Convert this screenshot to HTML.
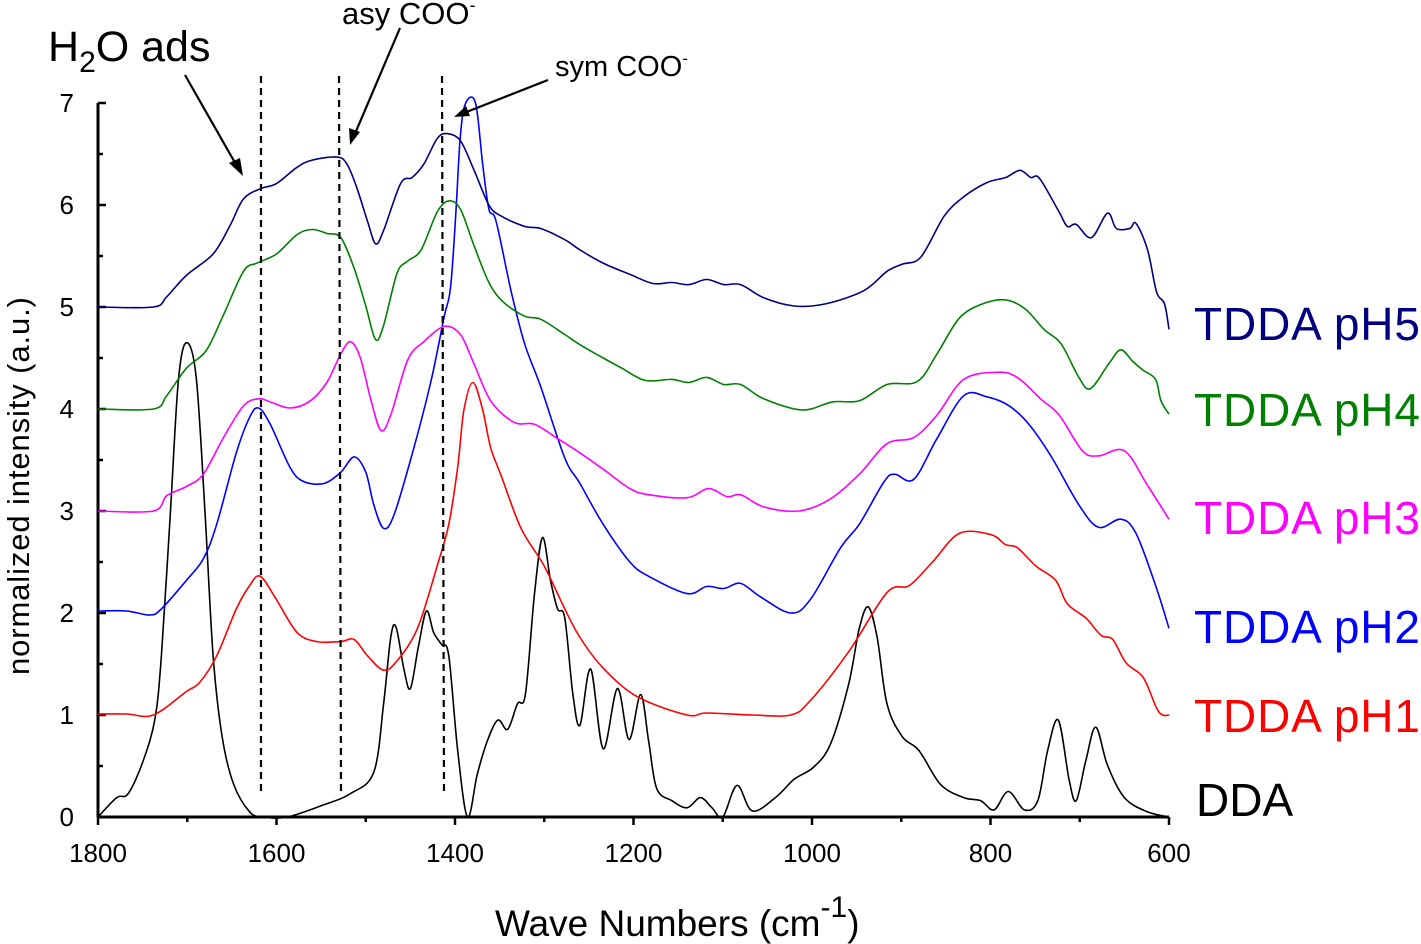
<!DOCTYPE html>
<html><head><meta charset="utf-8"><style>
html,body{margin:0;padding:0;background:#fff}
svg{display:block;font-family:"Liberation Sans",Arial,sans-serif}
</style></head><body>
<svg id="chart" width="1421" height="944" viewBox="0 0 1421 944" xmlns="http://www.w3.org/2000/svg">
<g id="axes"></g>
<g id="series"></g>
<g id="annot">
<text x="48" y="61" font-size="43">H<tspan font-size="30" dy="11">2</tspan><tspan dy="-11">O ads</tspan></text>
<text x="342" y="24" font-size="31">asy COO<tspan font-size="18" dy="-13">-</tspan></text>
<text x="555" y="76" font-size="29">sym COO<tspan font-size="17" dy="-12">-</tspan></text>
<g stroke="#000" stroke-width="2.2" fill="none">
<line x1="185" y1="75" x2="238" y2="168"/>
<line x1="400" y1="28" x2="354" y2="136"/>
<line x1="548" y1="80" x2="464" y2="113"/>
</g>
<polygon points="243,176 229,163 240,158"/>
<polygon points="350,145 349,128 360,132"/>
<polygon points="454,117 466,106 470,116"/>
<g stroke="#000" stroke-width="2.2" stroke-dasharray="7,5">
<line x1="261" y1="76" x2="261" y2="795"/>
<line x1="339" y1="76" x2="341" y2="795"/>
<line x1="442" y1="76" x2="444" y2="795"/>
</g>
<g font-size="46">
<text x="1194" y="340" fill="#000080" textLength="226">TDDA pH5</text>
<text x="1194" y="426" fill="#008000" textLength="226">TDDA pH4</text>
<text x="1194" y="534" fill="#ff00ff" textLength="226">TDDA pH3</text>
<text x="1194" y="643" fill="#0000ff" textLength="226">TDDA pH2</text>
<text x="1194" y="732" fill="#ff0000" textLength="226">TDDA pH1</text>
<text x="1196" y="816" fill="#000">DDA</text>
</g>
</g>
</svg>
<script>
const xTicks=[1800,1600,1400,1200,1000,800,600];
const yTicks=[0,1,2,3,4,5,6,7];
const seriesNames=["DDA","TDDA pH1","TDDA pH2","TDDA pH3","TDDA pH4","TDDA pH5"];
const seriesColors=["#000000","#ff0000","#0000ff","#ff00ff","#008000","#000080"];
const ddaWn=[1800,1779,1766,1749,1736,1729,1719,1710,1701,1690,1680,1671,1661,1648,1630,1615,1588,1547,1517,1491,1480,1472,1466,1457,1450,1441,1432,1424,1415,1407,1397,1386,1375,1364,1352,1341,1330,1321,1311,1302,1293,1285,1277,1268,1260,1248,1234,1218,1205,1192,1183,1174,1157,1140,1125,1112,1100,1084,1067,1041,1020,998,979,959,947,937,927,916,899,880,856,830,811,796,780,762,747,736,724,712,704,693,682,669,650,624,600];
const ddaVal=[0,0.19,0.23,0.56,0.97,1.58,2.97,4.27,4.65,4.31,2.97,1.58,0.79,0.32,0.05,0,0,0.12,0.23,0.44,1.11,1.76,1.86,1.44,1.26,1.67,2.02,1.81,1.69,1.58,0.65,0,0.42,0.74,0.95,0.86,1.11,1.21,2.18,2.74,2.32,2.04,1.95,1.21,0.9,1.45,0.67,1.26,0.76,1.2,0.74,0.28,0.16,0.09,0.19,0.09,0,0.31,0.06,0.19,0.37,0.49,0.72,1.3,1.85,2.06,1.76,1.11,0.79,0.65,0.32,0.19,0.16,0.07,0.25,0.07,0.16,0.65,0.95,0.37,0.16,0.56,0.88,0.51,0.19,0.05,0];
const ph1Wn=[1800,1768,1738,1701,1686,1667,1645,1630,1618,1600,1577,1555,1528,1513,1498,1480,1465,1442,1420,1407,1397,1390,1380,1369,1360,1348,1326,1300,1277,1260,1234,1196,1140,1118,1067,1024,1002,959,916,891,865,835,800,783,770,749,727,714,693,676,663,648,629,614,607,600];
const ph1Val=[1.01,1.01,1.0,1.23,1.32,1.58,2.04,2.27,2.36,2.13,1.81,1.72,1.72,1.74,1.58,1.44,1.53,1.85,2.46,2.87,3.43,3.99,4.26,3.99,3.62,3.34,2.83,2.46,2.04,1.76,1.46,1.18,1.0,1.02,1.0,1.0,1.14,1.62,2.2,2.27,2.5,2.78,2.77,2.67,2.64,2.46,2.32,2.09,1.95,1.78,1.74,1.51,1.37,1.07,1.0,1.0];
const ph2Wn=[1800,1768,1742,1729,1701,1682,1667,1645,1630,1620,1607,1585,1570,1547,1528,1513,1500,1491,1480,1468,1446,1427,1412,1405,1399,1394,1388,1377,1369,1362,1354,1337,1322,1304,1277,1260,1234,1204,1183,1140,1118,1099,1080,1058,1024,1002,968,947,919,907,886,860,830,804,779,757,731,701,679,654,637,615,600];
const ph2Val=[2.02,2.02,1.98,2.04,2.32,2.53,2.87,3.57,3.92,4.01,3.85,3.43,3.29,3.27,3.38,3.53,3.38,3.06,2.83,2.97,3.62,4.27,4.91,5.19,5.93,6.68,7.0,7.0,6.4,5.96,5.84,5.15,4.64,4.22,3.52,3.27,2.87,2.5,2.36,2.19,2.26,2.24,2.29,2.16,2.0,2.13,2.64,2.87,3.29,3.36,3.31,3.71,4.13,4.12,4.03,3.85,3.52,3.06,2.84,2.92,2.78,2.27,1.85];
const ph3Wn=[1800,1738,1723,1701,1682,1660,1637,1620,1607,1585,1562,1543,1528,1517,1506,1494,1483,1472,1453,1435,1412,1394,1379,1360,1334,1311,1285,1260,1234,1204,1183,1140,1116,1095,1080,1054,1015,981,947,916,886,860,830,792,770,744,723,697,679,650,624,600];
const ph3Val=[3.0,3.0,3.15,3.24,3.36,3.71,4.03,4.1,4.07,4.01,4.08,4.27,4.54,4.66,4.5,4.08,3.79,3.94,4.48,4.66,4.81,4.73,4.45,4.08,3.87,3.85,3.71,3.57,3.41,3.22,3.16,3.13,3.22,3.14,3.16,3.04,3.0,3.11,3.36,3.66,3.72,3.94,4.29,4.36,4.31,4.1,3.94,3.59,3.54,3.59,3.25,2.92];
const ph4Wn=[1800,1738,1723,1701,1679,1660,1637,1622,1600,1577,1560,1543,1528,1513,1500,1489,1480,1465,1453,1438,1420,1407,1394,1379,1362,1346,1322,1304,1277,1260,1234,1213,1187,1157,1138,1118,1099,1080,1054,1011,977,947,916,882,860,835,809,783,761,740,721,701,688,667,654,641,629,615,609,600];
const ph4Val=[4.0,4.0,4.13,4.4,4.57,4.91,5.35,5.43,5.52,5.71,5.76,5.72,5.68,5.38,5.01,4.68,4.82,5.33,5.45,5.56,5.93,6.04,5.96,5.61,5.24,5.05,4.91,4.88,4.73,4.63,4.5,4.4,4.28,4.29,4.26,4.31,4.24,4.24,4.1,3.99,4.07,4.08,4.24,4.27,4.54,4.89,5.03,5.07,4.98,4.78,4.64,4.31,4.2,4.45,4.58,4.47,4.38,4.29,4.08,3.95];
const ph5Wn=[1800,1738,1723,1701,1671,1652,1637,1618,1600,1577,1560,1532,1521,1510,1498,1489,1480,1461,1448,1435,1420,1409,1394,1379,1362,1348,1322,1304,1277,1260,1234,1204,1178,1157,1138,1118,1099,1080,1054,1020,985,942,916,899,878,852,830,804,783,767,755,745,723,714,704,687,669,659,644,637,624,614,605,600];
const ph5Val=[5.0,5.0,5.1,5.31,5.52,5.8,6.06,6.16,6.21,6.37,6.44,6.47,6.4,6.17,5.84,5.62,5.75,6.21,6.27,6.4,6.65,6.7,6.63,6.35,6.0,5.89,5.79,5.77,5.66,5.56,5.43,5.32,5.23,5.24,5.22,5.27,5.22,5.22,5.09,5.01,5.03,5.16,5.35,5.42,5.49,5.89,6.08,6.22,6.27,6.34,6.27,6.26,5.93,5.79,5.81,5.68,5.92,5.77,5.77,5.82,5.56,5.15,5.03,4.78];

const X0=98,X1=1169,Y0=817,Y1=103;
function xs(w){return X0+(1800-w)*(X1-X0)/1200;}
function ys(v){return Y0-v*(Y0-Y1)/7;}
const NS="http://www.w3.org/2000/svg";
function mk(tag,attrs,parent){const e=document.createElementNS(NS,tag);for(const k in attrs)e.setAttribute(k,attrs[k]);parent.appendChild(e);return e;}
const axes=document.getElementById('axes');
let l=mk('line',{x1:X0,y1:Y0,x2:X1,y2:Y0,stroke:'#000','stroke-width':3},axes);


l=mk('line',{x1:X0,y1:Y0,x2:X0,y2:Y1,stroke:'#000','stroke-width':3},axes);


for(let w=1800;w>=600;w-=100){
  const major=(w%200===0);
  const t=mk('line',{x1:xs(w),y1:Y0,x2:xs(w),y2:Y0+(major?8:5),stroke:'#000','stroke-width':2.5},axes);
  
  
}
xTicks.forEach(w=>{
  const t=mk('text',{x:xs(w),y:862,'font-size':26,'text-anchor':'middle'},axes);t.textContent=w;
  
  
});
for(let v=0;v<=7;v+=0.5){
  const major=Number.isInteger(v);
  const t=mk('line',{x1:X0,y1:ys(v),x2:X0+(major?8:5),y2:ys(v),stroke:'#000','stroke-width':2.5},axes);
  
  
}
yTicks.forEach(v=>{
  const t=mk('text',{x:74,y:ys(v)+9,'font-size':26,'text-anchor':'end'},axes);t.textContent=v;
  
  
});
let xt=mk('text',{x:495,y:936,'font-size':37},axes);
xt.innerHTML='Wave Numbers (cm<tspan font-size="30" dy="-19">-1</tspan><tspan dy="19">)</tspan>';


let yt=mk('text',{x:0,y:0,'font-size':31,'text-anchor':'middle',textLength:378,transform:'translate(29,486) rotate(-90)'},axes);
yt.textContent='normalized intensity (a.u.)';



function smoothPath(wn,val){
  const p=wn.map((w,i)=>[xs(w),ys(val[i])]);
  let d='M'+p[0][0].toFixed(1)+','+p[0][1].toFixed(1);
  for(let i=0;i<p.length-1;i++){
    const p0=p[Math.max(0,i-1)],p1=p[i],p2=p[i+1],p3=p[Math.min(p.length-1,i+2)];
    const c1=[p1[0]+(p2[0]-p0[0])/6,p1[1]+(p2[1]-p0[1])/6];
    const c2=[p2[0]-(p3[0]-p1[0])/6,p2[1]-(p3[1]-p1[1])/6];
    d+='C'+c1[0].toFixed(1)+','+c1[1].toFixed(1)+' '+c2[0].toFixed(1)+','+c2[1].toFixed(1)+' '+p2[0].toFixed(1)+','+p2[1].toFixed(1);
  }
  return d;
}
const sg=document.getElementById('series');
const allWn=[ddaWn,ph1Wn,ph2Wn,ph3Wn,ph4Wn,ph5Wn];
const allVal=[ddaVal,ph1Val,ph2Val,ph3Val,ph4Val,ph5Val];
const seriesIds=['dda','tdda-ph1','tdda-ph2','tdda-ph3','tdda-ph4','tdda-ph5'];
for(let s=0;s<6;s++){
  const path=mk('path',{d:smoothPath(allWn[s],allVal[s]),fill:'none',stroke:seriesColors[s],'stroke-width':1.6},sg);
  
  
}
</script>
</body></html>
